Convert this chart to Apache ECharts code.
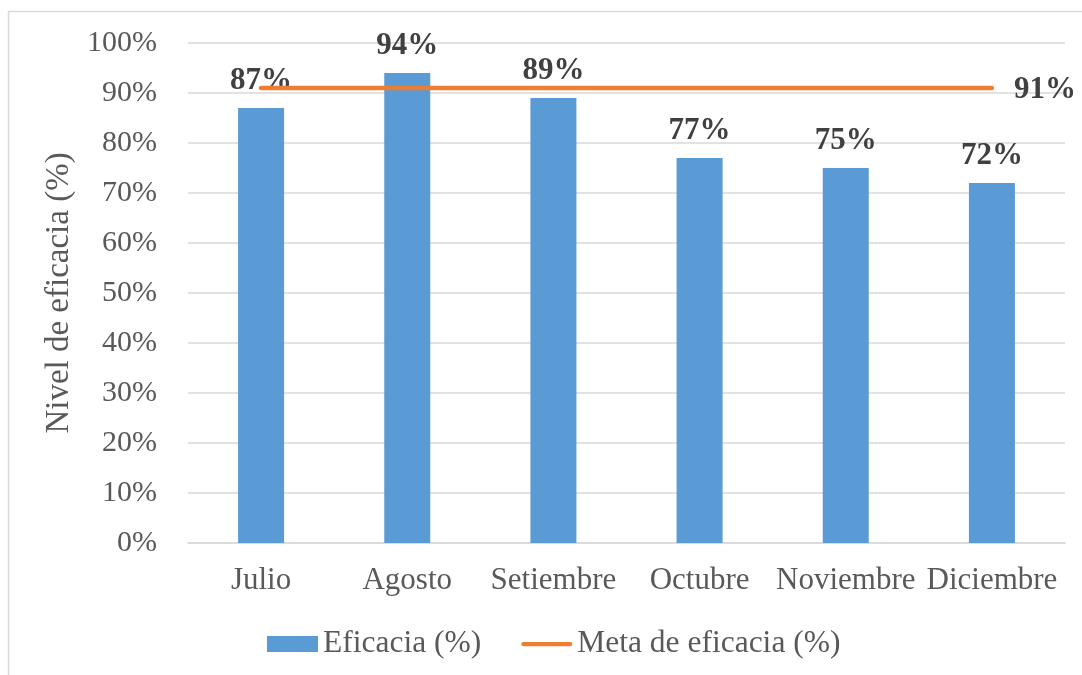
<!DOCTYPE html>
<html>
<head>
<meta charset="utf-8">
<script src="https://cdn.jsdelivr.net/npm/echarts@6/dist/echarts.min.js"></script>
<style>
  html, body { margin: 0; padding: 0; background: #ffffff; }
  #chart { width: 1082px; height: 675px; }
</style>
</head>
<body>
<div id="chart"></div>
<script>
// Monthly efficacy vs. target
const months = ['Julio', 'Agosto', 'Setiembre', 'Octubre', 'Noviembre', 'Diciembre'];
const efficacy = [87, 94, 89, 77, 75, 72];
const target = [91, 91, 91, 91, 91, 91];
const yTicks = { min: 0, max: 100, step: 10 };

const FONT = "'Liberation Serif', 'Times New Roman', serif";
const BLUE = '#5B9BD5';
const ORANGE = '#ED7D31';
const GRID = '#D9D9D9';

// Rounded line used as the legend marker of the target series
const LINE_ICON = 'path://M2.25,0 L51.75,0 A2.25,2.25 0 0 1 51.75,4.5 L2.25,4.5 A2.25,2.25 0 0 1 2.25,0 Z';

const chart = echarts.init(document.getElementById('chart'), null, { renderer: 'canvas' });

chart.setOption({
  backgroundColor: '#ffffff',
  animation: false,
  graphic: [{
    type: 'rect',
    shape: { x: 8.5, y: 11.5, width: 1200, height: 800 },
    style: { fill: 'none', stroke: GRID, lineWidth: 1.5 },
    silent: true,
    z: -1
  }],
  grid: { left: 188, right: 17, top: 43, bottom: 132, containLabel: false },
  legend: {
    left: 262,
    top: 623,
    itemWidth: 51,
    itemHeight: 16,
    itemGap: 40,
    textStyle: { fontFamily: FONT, fontSize: 31.5, color: '#595959' },
    data: [
      { name: 'Eficacia (%)', icon: 'rect' },
      { name: 'Meta de eficacia (%)', icon: LINE_ICON, itemStyle: { color: ORANGE } }
    ]
  },
  xAxis: {
    type: 'category',
    data: months,
    axisLine: { show: true, lineStyle: { color: GRID, width: 1.5 } },
    axisTick: { show: false },
    axisLabel: { fontFamily: FONT, fontSize: 31, color: '#595959', margin: 22, interval: 0 }
  },
  yAxis: {
    type: 'value',
    min: yTicks.min,
    max: yTicks.max,
    interval: yTicks.step,
    name: 'Nivel de eficacia (%)',
    nameLocation: 'middle',
    nameGap: 106,
    nameRotate: 90,
    nameTextStyle: { fontFamily: FONT, fontSize: 33, color: '#595959' },
    axisLine: { show: false },
    axisTick: { show: false },
    splitLine: { lineStyle: { color: GRID, width: 1.5 } },
    axisLabel: {
      fontFamily: FONT, fontSize: 30, color: '#595959', margin: 31,
      formatter: '{value}%'
    }
  },
  series: [
    {
      name: 'Eficacia (%)',
      type: 'bar',
      data: efficacy,
      barWidth: 46,
      itemStyle: { color: BLUE },
      label: {
        show: true,
        position: 'top',
        distance: 12,
        fontFamily: FONT,
        fontSize: 31,
        fontWeight: 'bold',
        color: '#404040',
        formatter: '{c}%'
      },
      z: 2
    },
    {
      name: 'Meta de eficacia (%)',
      type: 'line',
      data: target,
      symbol: 'none',
      lineStyle: { color: ORANGE, width: 4.5, cap: 'round' },
      itemStyle: { color: ORANGE },
      endLabel: {
        show: true,
        distance: 22,
        offset: [0, 2],
        fontFamily: FONT,
        fontSize: 31,
        fontWeight: 'bold',
        color: '#404040',
        formatter: '{c}%'
      },
      z: 3
    }
  ]
});
</script>
</body>
</html>
